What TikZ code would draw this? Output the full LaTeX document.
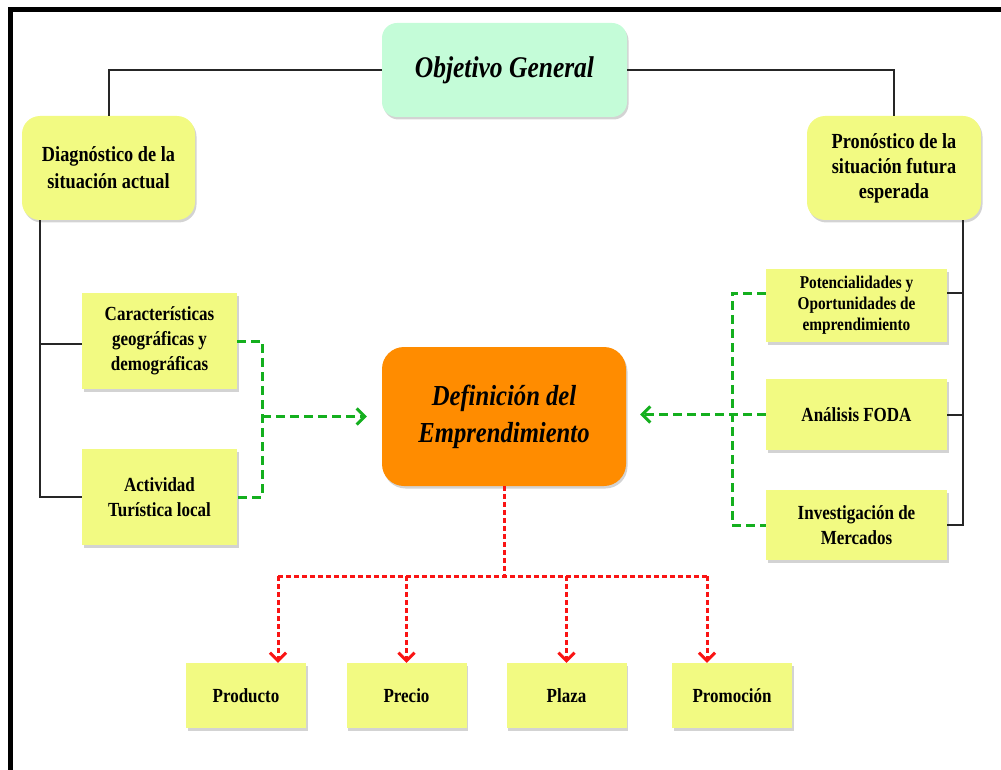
\documentclass[tikz,border=0pt]{standalone}
\usepackage{fontspec}
\setmainfont{Liberation Serif}[FakeStretch=0.85]
\usetikzlibrary{arrows.meta,shadows}
\definecolor{box_yellow}{RGB}{242, 250, 130}
\definecolor{obj_mint}{RGB}{196, 252, 216}
\definecolor{def_orange}{RGB}{255, 140, 0}
\definecolor{flow_green}{RGB}{20, 175, 30}
\definecolor{flow_red}{RGB}{250, 20, 20}
\newcommand{\fsz}[2]{\fontsize{#1}{#2}\selectfont}
\tikzstyle{ybox}=[rectangle,fill=box_yellow,inner sep=0pt,align=center,
  drop shadow={shadow xshift=1.5pt,shadow yshift=-2.5pt,opacity=0.35}]
\tikzstyle{rbox}=[ybox,rounded corners=18pt]
\tikzstyle{tree}=[draw=black!85,line width=2pt]
\tikzstyle{gflow}=[draw=flow_green,line width=3pt,dash pattern=on 9pt off 5pt]
\tikzstyle{rflow}=[draw=flow_red,line width=3pt,dash pattern=on 5pt off 3pt]
\tikzstyle{tip}=[-{Straight Barb[length=8pt,width=16pt,line width=3pt]}]

\begin{document}
\begin{tikzpicture}[x=1pt,y=-1pt]
    \useasboundingbox (0,0) rectangle (1001,770);
    \draw [line width=5pt] (10,770) -- (10,9.7) -- (1001,9.7);
    \node [style=rbox,fill=obj_mint,rounded corners=15pt,minimum width=245pt,minimum height=94pt,
      font=\fsz{30}{36}\bfseries\itshape] (obj) at (504.5,70) {Objetivo General};
    \node [style=rbox,minimum width=173pt,minimum height=104pt,font=\fsz{21.5}{27}\bfseries]
      (diag) at (108.5,168) {Diagnóstico de la\\situación actual};
    \node [style=rbox,minimum width=174pt,minimum height=104pt,font=\fsz{21.5}{25}\bfseries]
      (pron) at (894,168) {Pronóstico de la\\situación futura\\esperada};
    \node [style=ybox,minimum width=155pt,minimum height=96pt,font=\fsz{20}{25}\bfseries]
      (carac) at (159.5,341) {Características\\geográficas y\\demográficas};
    \node [style=ybox,minimum width=155pt,minimum height=96pt,font=\fsz{20}{25}\bfseries]
      (activ) at (159.5,497) {Actividad\\Turística local};
    \node [style=rbox,fill=def_orange,rounded corners=22pt,minimum width=244pt,minimum height=139pt,
      font=\fsz{29}{37}\bfseries\itshape] (defin) at (504,416.5) {Definición del\\Emprendimiento};
    \node [style=ybox,minimum width=181pt,minimum height=73pt,font=\fsz{18}{21}\bfseries]
      (poten) at (856.5,305.5) {Potencialidades y\\Oportunidades de\\emprendimiento};
    \node [style=ybox,minimum width=181pt,minimum height=71pt,font=\fsz{20}{25}\bfseries]
      (foda) at (856.5,414.5) {Análisis FODA};
    \node [style=ybox,minimum width=181pt,minimum height=70pt,font=\fsz{20}{25}\bfseries]
      (invest) at (856.5,525) {Investigación de\\Mercados};
    \node [style=ybox,minimum width=120pt,minimum height=65pt,font=\fsz{20}{25}\bfseries]
      (prod) at (246,695.5) {Producto};
    \node [style=ybox,minimum width=120pt,minimum height=65pt,font=\fsz{20}{25}\bfseries]
      (prec) at (406.5,695.5) {Precio};
    \node [style=ybox,minimum width=120pt,minimum height=65pt,font=\fsz{20}{25}\bfseries]
      (plaza) at (566.5,695.5) {Plaza};
    \node [style=ybox,minimum width=120pt,minimum height=65pt,font=\fsz{20}{25}\bfseries]
      (promo) at (732,695.5) {Promoción};
    \coordinate (lbus) at (40,0);
    \coordinate (rbus) at (963,0);
    \coordinate (lgrn) at (262,0);
    \coordinate (rgrn) at (732,0);
    \coordinate (rbar) at (0,576);
    \coordinate (caracw) at ([yshift=-3pt]carac.west);
    \coordinate (potene) at ([yshift=12.5pt]poten.east);
    \coordinate (potenw) at ([yshift=12.5pt]poten.west);
    \coordinate (prodin) at ([xshift=32pt]prod.north);
    \coordinate (promoin) at ([xshift=-25pt]promo.north);
    \draw [style=tree] (obj.west) -| (diag.north);
    \draw [style=tree] (obj.east) -| (pron.north);
    \draw [style=tree] (diag.south -| lbus) |- (activ.west);
    \draw [style=tree] (caracw) -- (caracw -| lbus);
    \draw [style=tree] (pron.south -| rbus) |- (invest.east);
    \draw [style=tree] (foda.east) -- (foda.east -| rbus);
    \draw [style=tree] (potene) -- (potene -| rbus);
    \draw [style=gflow] (carac.east) -| (lgrn |- activ.east) -- (activ.east);
    \draw [style=gflow,style=tip,shorten >=15pt] (lgrn |- defin.west) -- (defin.west);
    \draw [style=gflow] (potenw) -| (rgrn |- invest.west) -- (invest.west);
    \draw [style=gflow,style=tip,shorten >=14pt] (foda.west) -- (foda.west -| defin.east);
    \draw [style=rflow] (defin.south) -- (defin.south |- rbar);
    \draw [style=rflow] (rbar -| prodin) -- (rbar -| promoin);
    \draw [style=rflow,style=tip] (rbar -| prodin) -- (prodin);
    \draw [style=rflow,style=tip] (rbar -| prec.north) -- (prec.north);
    \draw [style=rflow,style=tip] (rbar -| plaza.north) -- (plaza.north);
    \draw [style=rflow,style=tip] (rbar -| promoin) -- (promoin);
  \end{tikzpicture}
\end{document}
